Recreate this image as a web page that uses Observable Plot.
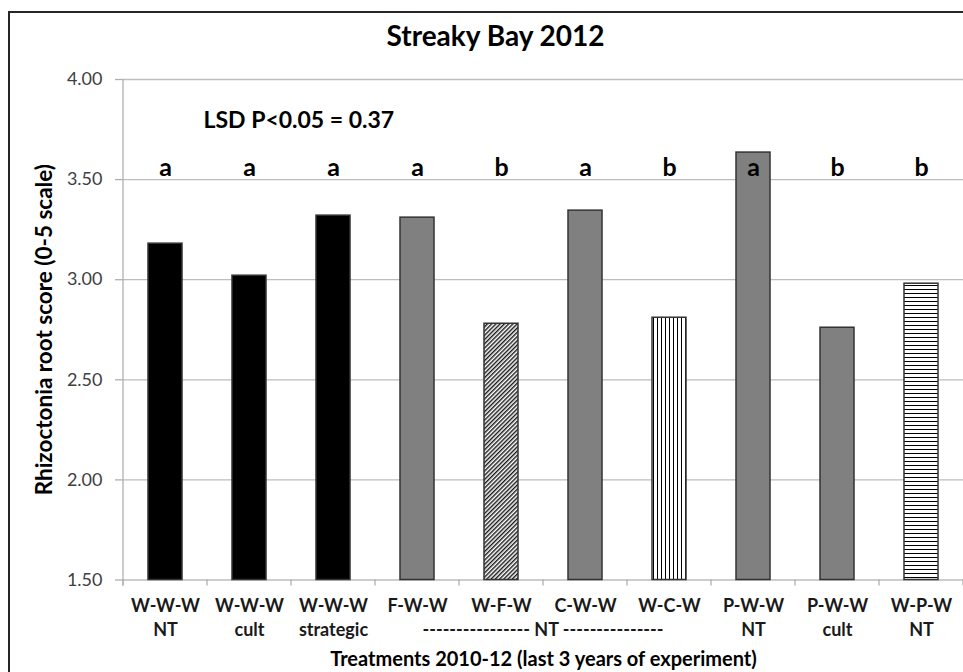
<!DOCTYPE html>
<html><head><meta charset="utf-8">
<script src="https://cdn.jsdelivr.net/npm/d3@7"></script>
<script src="https://cdn.jsdelivr.net/npm/@observablehq/plot@0.6"></script>
<style>
html,body{margin:0;padding:0;background:#fff;overflow:hidden;width:963px;height:672px;}
#wrap{position:relative;width:963px;height:672px;overflow:hidden;}
#border{position:absolute;left:8px;top:11px;width:1200px;height:900px;border-left:2px solid #262626;border-top:2px solid #262626;}
#chart{position:absolute;left:0;top:0;}
</style></head><body>
<div id="wrap"><div id="border"></div><div id="chart"></div></div>
<script>
const title = "Streaky Bay 2012";
const categories = ["W-W-W NT","W-W-W cult","W-W-W strategic","F-W-W","W-F-W","C-W-W","W-C-W","P-W-W NT","P-W-W cult","W-P-W NT"];
const tickLine1 = ["W-W-W","W-W-W","W-W-W","F-W-W","W-F-W","C-W-W","W-C-W","P-W-W","P-W-W","W-P-W"];
const tickLine2 = ["NT","cult","strategic","","","","","NT","cult","NT"];
const values = [3.18, 3.02, 3.32, 3.31, 2.78, 3.345, 2.81, 3.635, 2.76, 2.98];
const letters = ["a","a","a","a","b","a","b","a","b","b"];
const yDomain = [1.5, 4];
const yTicks = [1.5, 2, 2.5, 3, 3.5, 4];
const groupLabel = "---------------- NT ---------------";
const groupFrom = "F-W-W", groupTo = "W-C-W";
const lsdText = "LSD P<0.05 = 0.37";
const xTitle = "Treatments 2010-12 (last 3 years of experiment)";
const yTitle = "Rhizoctonia root score (0-5 scale)";

const rows = categories.map((c, i) => ({category: c, value: values[i], letter: letters[i], l1: tickLine1[i], l2: tickLine2[i]}));

const barFills = ["#000000","#000000","#000000","#808080","url(#hatchDiag)","#808080","url(#hatchVert)","#808080","#808080","url(#hatchHorz)"];
const FONT = "Lato, 'Open Sans', sans-serif";

function extras(index, scales, values, dims) {
  const x = scales.x;
  const bw = x.bandwidth();
  const step = x.step ? x.step() : (dims.width - dims.marginLeft - dims.marginRight) / categories.length;
  const g = d3.create("svg:g");
  const defs = g.append("defs");
  const pd = defs.append("pattern").attr("id","hatchDiag").attr("patternUnits","userSpaceOnUse")
    .attr("width",3).attr("height",3).attr("patternTransform","rotate(45)");
  pd.append("rect").attr("width",3).attr("height",3).attr("fill","#fff");
  pd.append("line").attr("x1",0.75).attr("x2",0.75).attr("y1",0).attr("y2",3).attr("stroke","#000").attr("stroke-width",1.3);
  const pv = defs.append("pattern").attr("id","hatchVert").attr("patternUnits","userSpaceOnUse")
    .attr("width",4).attr("height",4);
  pv.append("rect").attr("width",4).attr("height",4).attr("fill","#fff");
  pv.append("line").attr("x1",1.5).attr("x2",1.5).attr("y1",0).attr("y2",4).attr("stroke","#000").attr("stroke-width",1);
  const ph = defs.append("pattern").attr("id","hatchHorz").attr("patternUnits","userSpaceOnUse")
    .attr("width",4).attr("height",4);
  ph.append("rect").attr("width",4).attr("height",4).attr("fill","#fff");
  ph.append("line").attr("y1",1.5).attr("y2",1.5).attr("x1",0).attr("x2",4).attr("stroke","#000").attr("stroke-width",1);

  const bottom = dims.height - dims.marginBottom;
  g.append("line").attr("x1", dims.marginLeft).attr("x2", dims.marginLeft)
    .attr("y1", dims.marginTop).attr("y2", bottom + 6).attr("stroke", "#b0b0b0").attr("stroke-width", 1.3);
  const bounds = categories.map(c => x(c) - (step - bw) / 2);
  bounds.push(x(categories[categories.length - 1]) + bw + (step - bw) / 2);
  for (const b of bounds) {
    g.append("line").attr("x1", b).attr("x2", b).attr("y1", bottom).attr("y2", bottom + 6)
      .attr("stroke", "#b0b0b0").attr("stroke-width", 1.3);
  }
  const cx = (x(groupFrom) + x(groupTo) + bw) / 2;
  g.append("text").attr("x", cx).attr("y", bottom + 56).attr("text-anchor", "middle")
    .attr("font-family", FONT).attr("font-weight", "bold").attr("font-size", 18).attr("fill", "#1a1a1a")
    .text(groupLabel);
  return g.node();
}

const chart = Plot.plot({
  width: 963,
  height: 672,
  marginTop: 79,
  marginBottom: 92.5,
  marginLeft: 123,
  marginRight: 0,
  style: {fontFamily: FONT, background: "transparent"},
  x: {domain: categories, paddingInner: 0.59, paddingOuter: 0.295, axis: null},
  y: {domain: yDomain, axis: null},
  color: {domain: categories, range: barFills},
  marks: [
    Plot.gridY(yTicks, {stroke: "#bdbdbd", strokeOpacity: 1, strokeWidth: 1.3}),
    Plot.axisY(yTicks, {tickSize: 8, tickPadding: 13, tickFormat: d3.format(".2f"), fontSize: 18,
      fill: "#404040", stroke: "#b0b0b0", strokeWidth: 1.3, label: null}),
    extras,
    Plot.barY(rows, {x: "category", y1: yDomain[0], y2: "value", fill: "category", stroke: "#333", strokeWidth: 1.5}),
    Plot.text(rows, {x: "category", text: "letter", frameAnchor: "top", lineAnchor: "middle", dy: 88.5, fontSize: 25, fontWeight: "bold", fill: "#000"}),
    Plot.text(rows, {x: "category", text: "l1", frameAnchor: "bottom", lineAnchor: "middle", dy: 26, fontSize: 18, fontWeight: "bold", fill: "#1a1a1a"}),
    Plot.text(rows, {x: "category", text: "l2", frameAnchor: "bottom", lineAnchor: "middle", dy: 50, fontSize: 18, fontWeight: "bold", fill: "#1a1a1a"}),
    Plot.text([title], {frameAnchor: "top", lineAnchor: "middle", dx: -48, dy: -42, fontSize: 28, fontWeight: "bold", fill: "#000"}),
    Plot.text([lsdText], {frameAnchor: "top-left", lineAnchor: "middle", textAnchor: "start", dx: 80, dy: 41, fontSize: 23, fontWeight: "bold", fill: "#000"}),
    Plot.text([xTitle], {frameAnchor: "bottom", lineAnchor: "middle", dy: 80, fontSize: 20, fontWeight: "bold", fill: "#000"}),
    Plot.text([yTitle], {frameAnchor: "left", lineAnchor: "middle", textAnchor: "middle", rotate: -90, dx: -79, fontSize: 22.5, fontWeight: "bold", fill: "#000"})
  ]
});
document.getElementById("chart").appendChild(chart);
</script>
</body></html>
